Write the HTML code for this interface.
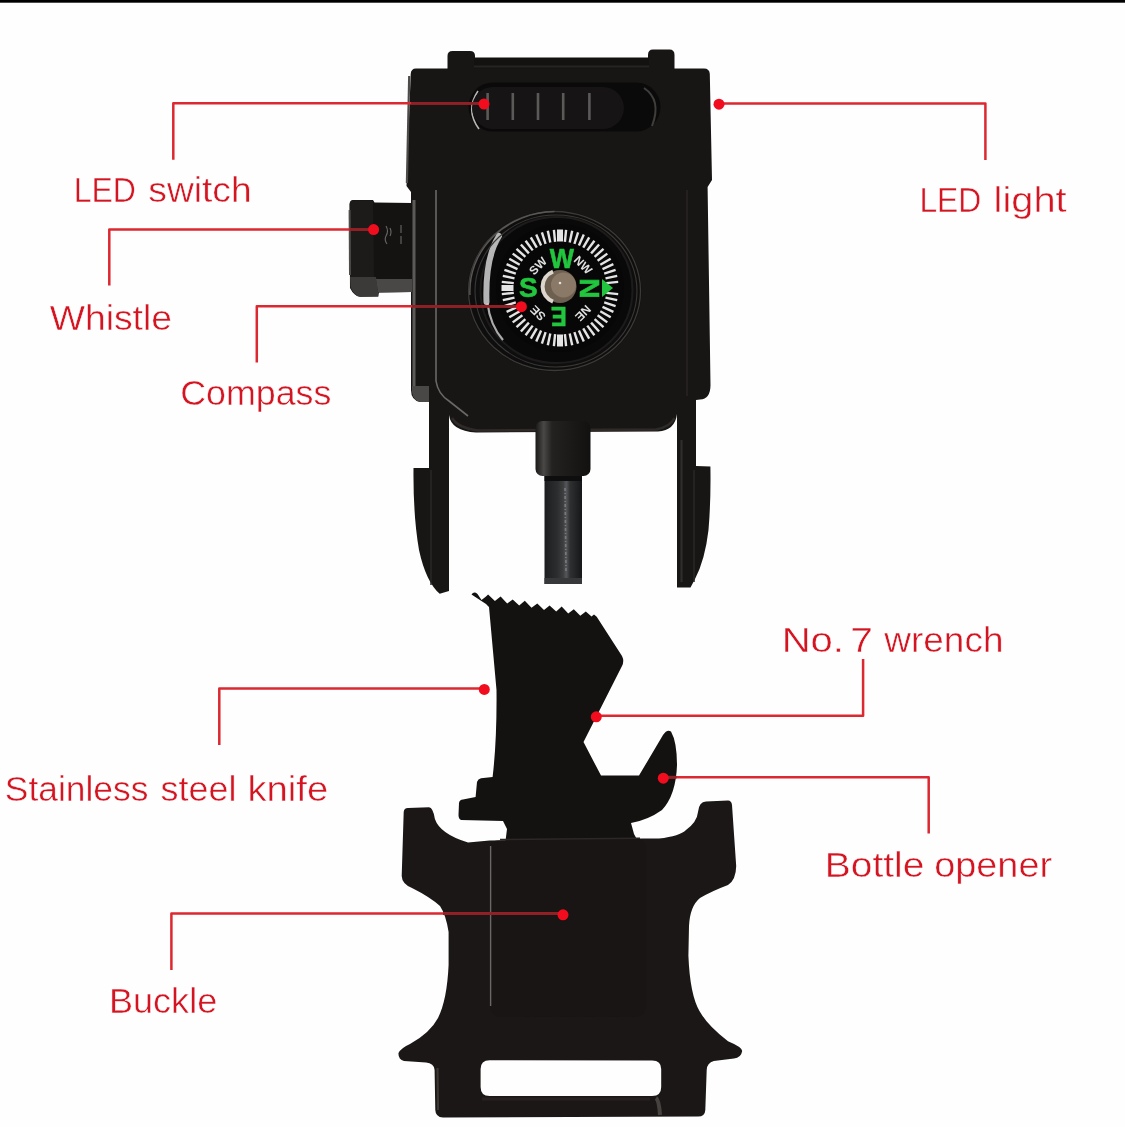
<!DOCTYPE html>
<html><head><meta charset="utf-8"><title>Survival buckle</title>
<style>
html,body{margin:0;padding:0;background:#fefefe;}
body{width:1125px;height:1127px;overflow:hidden;position:relative;font-family:"Liberation Sans",sans-serif;}
svg{position:absolute;left:0;top:0;display:block;filter:blur(0.45px);}
</style></head>
<body>
<svg width="1125" height="1127" viewBox="0 0 1125 1127">
<rect x="0" y="0" width="1125" height="2.7" fill="#000"/>
<path d="M447.5,70 L447.5,56 Q447.5,51 452.5,51 L470,51 Q475,51 475,56 L475,70 Z" fill="#181615"/>
<path d="M648,70 L648,55 Q648,49.5 653,49.5 L669.5,49.5 Q674.5,49.5 674.5,55 L674.5,70 Z" fill="#181615"/>
<rect x="474" y="57.5" width="175" height="13" fill="#131211"/>
<rect x="474" y="65.5" width="175" height="2" fill="#262422"/>
<path d="M416,68.5 L704,68.5 Q709.5,68.5 709.8,74 L712,180 L707.6,187 L710.5,385 Q710.5,399 700,399.5 L696,400 L696,466 L710.4,466.5 Q711,500 708.5,530 Q705,560 695,579 L690.5,587.5 L677,587.5 L677,414 Q675,430.5 658,431.5 L476,432.5 Q451,431 449,415 L449,591 L439.7,593.8 Q426,582 419,550 Q413,515 413.5,468 L429,468 L429,402 L420,402 Q411,400 411,390 L411,192 L406.5,186 L410.7,74 Q411,68.5 416,68.5 Z" fill="#181615"/>
<path d="M409.2,76 L406.9,183" stroke="#4e4c4a" stroke-width="2.2" fill="none"/>
<path d="M436,190 L436,381 Q438,394 449,401 L468,416" stroke="#6a6866" stroke-width="1.6" fill="none"/>
<path d="M414,200 L414,386" stroke="#5c5a58" stroke-width="3" fill="none"/>
<path d="M687,190 L687,396" stroke="#2a2826" stroke-width="1.3" fill="none"/>
<path d="M412,386 L429,386 L429,402 L420,402 Q413,400 412,392 Z" fill="#4a4846"/>
<path d="M452,418 Q458,428 478,430.5 L656,429.5 Q670,427 674.5,418" stroke="#2e2a28" stroke-width="2.5" fill="none"/>
<path d="M431,470 L431,585" stroke="#2a2827" stroke-width="1.5"/>
<path d="M694,470 L694,582" stroke="#2a2827" stroke-width="1.5"/>
<path d="M681.5,440 L681.5,582" stroke="#302e2c" stroke-width="2.2"/>
<rect x="468.5" y="82.5" width="192" height="49" rx="24.5" fill="#0b0a0a"/>
<path d="M478,91 Q465,110 479,129" stroke="#b8b6b4" stroke-width="1.6" fill="none"/>
<path d="M644,88 Q662,100 652,126" stroke="#403e3c" stroke-width="2" fill="none"/>
<rect x="472" y="87" width="152" height="42" rx="21" fill="#161414"/>
<rect x="486.3" y="93" width="2.6" height="27" fill="#6e6c6a" opacity="0.8"/>
<rect x="511.49999999999994" y="93" width="2.6" height="27" fill="#6e6c6a" opacity="0.8"/>
<rect x="536.7" y="93" width="2.6" height="27" fill="#6e6c6a" opacity="0.8"/>
<rect x="561.9000000000001" y="93" width="2.6" height="27" fill="#6e6c6a" opacity="0.8"/>
<rect x="588.1" y="93" width="2.6" height="27" fill="#6e6c6a" opacity="0.8"/>
<path d="M353,200 L373,200 L374.5,202.5 L412,203 L412,292 L379,292.5 L378,296.5 L360,296.8 Q354,296 350,288 L349.5,204 Q350,200 353,200 Z" fill="#141312"/>
<path d="M353,200.5 L373,200.5 L374,277 L350,277 L349.8,204 Q350,200.5 353,200.5 Z" fill="#1d1b1a"/>
<path d="M349.6,210 L350,275" stroke="#4e4c4a" stroke-width="2"/>
<path d="M350,277 L376,277 L378.5,296.5 L360,296.8 Q354,296 350.5,287 Z" fill="#3c3a38"/>
<path d="M376,279 L412,279 L412,292 L378,292.5 Z" fill="#4a4846"/>
<path d="M386,226 Q389,231 386,236 Q384,240 387,244 M390,228 Q392,232 390,236 M401,225 L401,233 M401,236 L401,244" stroke="#6a6866" stroke-width="1.1" fill="none"/>
<ellipse cx="554.5" cy="291" rx="87" ry="80.5" fill="#0f0e0e"/>
<ellipse cx="554.5" cy="291" rx="86" ry="79.5" fill="none" stroke="#3c3a38" stroke-width="1.3"/>
<path d="M470,295 A86,79.5 0 0 1 554.5,211.5" stroke="#5a5754" stroke-width="1.4" fill="none"/>
<ellipse cx="556.5" cy="290" rx="76" ry="73" fill="#0a0909" stroke="#1e1c1b" stroke-width="2"/>
<path d="M499,236 Q485,258 486.5,302" stroke="#d4d4d4" stroke-width="6" fill="none" opacity="0.85" stroke-linecap="round"/>
<path d="M487.5,303 Q490,325 503,340" stroke="#c8c8c8" stroke-width="2.2" fill="none" opacity="0.85"/>
<ellipse cx="556" cy="291" rx="81" ry="76" fill="none" stroke="#3a3836" stroke-width="1.1"/>
<circle cx="560" cy="288" r="64" fill="#080707"/>
<line x1="606.2" y1="292.9" x2="618.2" y2="294.1" stroke="#e4e4e4" stroke-width="2.4"/>
<line x1="605.5" y1="297.7" x2="617.2" y2="300.2" stroke="#e4e4e4" stroke-width="2.4"/>
<line x1="604.2" y1="302.4" x2="615.6" y2="306.1" stroke="#e4e4e4" stroke-width="2.4"/>
<line x1="602.5" y1="306.9" x2="613.4" y2="311.8" stroke="#e4e4e4" stroke-width="2.4"/>
<line x1="600.3" y1="311.2" x2="610.7" y2="317.2" stroke="#e4e4e4" stroke-width="2.4"/>
<line x1="597.6" y1="315.3" x2="607.3" y2="322.4" stroke="#e4e4e4" stroke-width="2.4"/>
<line x1="594.6" y1="319.1" x2="603.5" y2="327.1" stroke="#e4e4e4" stroke-width="2.4"/>
<line x1="591.1" y1="322.6" x2="599.1" y2="331.5" stroke="#e4e4e4" stroke-width="2.4"/>
<line x1="587.3" y1="325.6" x2="594.4" y2="335.3" stroke="#e4e4e4" stroke-width="2.4"/>
<line x1="583.2" y1="328.3" x2="589.2" y2="338.7" stroke="#e4e4e4" stroke-width="2.4"/>
<line x1="578.9" y1="330.5" x2="583.8" y2="341.4" stroke="#e4e4e4" stroke-width="2.4"/>
<line x1="574.4" y1="332.2" x2="578.1" y2="343.6" stroke="#e4e4e4" stroke-width="2.4"/>
<line x1="569.7" y1="333.5" x2="572.2" y2="345.2" stroke="#e4e4e4" stroke-width="2.4"/>
<line x1="564.9" y1="334.2" x2="566.1" y2="346.2" stroke="#e4e4e4" stroke-width="2.4"/>
<line x1="560.0" y1="334.5" x2="560.0" y2="346.5" stroke="#e4e4e4" stroke-width="6"/>
<line x1="555.1" y1="334.2" x2="553.9" y2="346.2" stroke="#e4e4e4" stroke-width="2.4"/>
<line x1="550.3" y1="333.5" x2="547.8" y2="345.2" stroke="#e4e4e4" stroke-width="2.4"/>
<line x1="545.6" y1="332.2" x2="541.9" y2="343.6" stroke="#e4e4e4" stroke-width="2.4"/>
<line x1="541.1" y1="330.5" x2="536.2" y2="341.4" stroke="#e4e4e4" stroke-width="2.4"/>
<line x1="536.8" y1="328.3" x2="530.8" y2="338.7" stroke="#e4e4e4" stroke-width="2.4"/>
<line x1="532.7" y1="325.6" x2="525.6" y2="335.3" stroke="#e4e4e4" stroke-width="2.4"/>
<line x1="528.9" y1="322.6" x2="520.9" y2="331.5" stroke="#e4e4e4" stroke-width="2.4"/>
<line x1="525.4" y1="319.1" x2="516.5" y2="327.1" stroke="#e4e4e4" stroke-width="2.4"/>
<line x1="522.4" y1="315.3" x2="512.7" y2="322.4" stroke="#e4e4e4" stroke-width="2.4"/>
<line x1="519.7" y1="311.2" x2="509.3" y2="317.2" stroke="#e4e4e4" stroke-width="2.4"/>
<line x1="517.5" y1="306.9" x2="506.6" y2="311.8" stroke="#e4e4e4" stroke-width="2.4"/>
<line x1="515.8" y1="302.4" x2="504.4" y2="306.1" stroke="#e4e4e4" stroke-width="2.4"/>
<line x1="514.5" y1="297.7" x2="502.8" y2="300.2" stroke="#e4e4e4" stroke-width="2.4"/>
<line x1="513.8" y1="292.9" x2="501.8" y2="294.1" stroke="#e4e4e4" stroke-width="2.4"/>
<line x1="513.5" y1="288.0" x2="501.5" y2="288.0" stroke="#e4e4e4" stroke-width="6"/>
<line x1="513.8" y1="283.1" x2="501.8" y2="281.9" stroke="#e4e4e4" stroke-width="2.4"/>
<line x1="514.5" y1="278.3" x2="502.8" y2="275.8" stroke="#e4e4e4" stroke-width="2.4"/>
<line x1="515.8" y1="273.6" x2="504.4" y2="269.9" stroke="#e4e4e4" stroke-width="2.4"/>
<line x1="517.5" y1="269.1" x2="506.6" y2="264.2" stroke="#e4e4e4" stroke-width="2.4"/>
<line x1="519.7" y1="264.8" x2="509.3" y2="258.8" stroke="#e4e4e4" stroke-width="2.4"/>
<line x1="522.4" y1="260.7" x2="512.7" y2="253.6" stroke="#e4e4e4" stroke-width="2.4"/>
<line x1="525.4" y1="256.9" x2="516.5" y2="248.9" stroke="#e4e4e4" stroke-width="2.4"/>
<line x1="528.9" y1="253.4" x2="520.9" y2="244.5" stroke="#e4e4e4" stroke-width="2.4"/>
<line x1="532.7" y1="250.4" x2="525.6" y2="240.7" stroke="#e4e4e4" stroke-width="2.4"/>
<line x1="536.8" y1="247.7" x2="530.8" y2="237.3" stroke="#e4e4e4" stroke-width="2.4"/>
<line x1="541.1" y1="245.5" x2="536.2" y2="234.6" stroke="#e4e4e4" stroke-width="2.4"/>
<line x1="545.6" y1="243.8" x2="541.9" y2="232.4" stroke="#e4e4e4" stroke-width="2.4"/>
<line x1="550.3" y1="242.5" x2="547.8" y2="230.8" stroke="#e4e4e4" stroke-width="2.4"/>
<line x1="555.1" y1="241.8" x2="553.9" y2="229.8" stroke="#e4e4e4" stroke-width="2.4"/>
<line x1="560.0" y1="241.5" x2="560.0" y2="229.5" stroke="#e4e4e4" stroke-width="6"/>
<line x1="564.9" y1="241.8" x2="566.1" y2="229.8" stroke="#e4e4e4" stroke-width="2.4"/>
<line x1="569.7" y1="242.5" x2="572.2" y2="230.8" stroke="#e4e4e4" stroke-width="2.4"/>
<line x1="574.4" y1="243.8" x2="578.1" y2="232.4" stroke="#e4e4e4" stroke-width="2.4"/>
<line x1="578.9" y1="245.5" x2="583.8" y2="234.6" stroke="#e4e4e4" stroke-width="2.4"/>
<line x1="583.2" y1="247.7" x2="589.2" y2="237.3" stroke="#e4e4e4" stroke-width="2.4"/>
<line x1="587.3" y1="250.4" x2="594.4" y2="240.7" stroke="#e4e4e4" stroke-width="2.4"/>
<line x1="591.1" y1="253.4" x2="599.1" y2="244.5" stroke="#e4e4e4" stroke-width="2.4"/>
<line x1="594.6" y1="256.9" x2="603.5" y2="248.9" stroke="#e4e4e4" stroke-width="2.4"/>
<line x1="597.6" y1="260.7" x2="607.3" y2="253.6" stroke="#e4e4e4" stroke-width="2.4"/>
<line x1="600.3" y1="264.8" x2="610.7" y2="258.8" stroke="#e4e4e4" stroke-width="2.4"/>
<line x1="602.5" y1="269.1" x2="613.4" y2="264.2" stroke="#e4e4e4" stroke-width="2.4"/>
<line x1="604.2" y1="273.6" x2="615.6" y2="269.9" stroke="#e4e4e4" stroke-width="2.4"/>
<line x1="605.5" y1="278.3" x2="617.2" y2="275.8" stroke="#e4e4e4" stroke-width="2.4"/>
<line x1="606.2" y1="283.1" x2="618.2" y2="281.9" stroke="#e4e4e4" stroke-width="2.4"/>
<text x="0" y="0" font-family="Liberation Sans, sans-serif" font-weight="bold" font-size="27" fill="#22c63e" stroke="#22c63e" stroke-width="0.6" text-anchor="middle" dominant-baseline="central" transform="translate(561.8,258.8) rotate(0) scale(0.95,1)">W</text>
<text x="0" y="0" font-family="Liberation Sans, sans-serif" font-weight="bold" font-size="28" fill="#22c63e" stroke="#22c63e" stroke-width="0.6" text-anchor="middle" dominant-baseline="central" transform="translate(589.7,288.4) rotate(90) scale(1.0,1)">N</text>
<text x="0" y="0" font-family="Liberation Sans, sans-serif" font-weight="bold" font-size="28" fill="#22c63e" stroke="#22c63e" stroke-width="0.6" text-anchor="middle" dominant-baseline="central" transform="translate(528.4,287.2) rotate(0) scale(1.0,1)">S</text>
<text x="0" y="0" font-family="Liberation Sans, sans-serif" font-weight="bold" font-size="28" fill="#22c63e" stroke="#22c63e" stroke-width="0.6" text-anchor="middle" dominant-baseline="central" transform="translate(558.7,317) rotate(180) scale(0.85,1)">E</text>
<polygon points="602,279 602,297 613,288" fill="#22c63e"/>
<text x="0" y="0" font-family="Liberation Sans, sans-serif" font-weight="bold" font-size="12" fill="#dedede" text-anchor="middle" dominant-baseline="central" transform="translate(538,266) rotate(-45)">SW</text>
<text x="0" y="0" font-family="Liberation Sans, sans-serif" font-weight="bold" font-size="12" fill="#dedede" text-anchor="middle" dominant-baseline="central" transform="translate(583,265) rotate(45)">NW</text>
<text x="0" y="0" font-family="Liberation Sans, sans-serif" font-weight="bold" font-size="12" fill="#dedede" text-anchor="middle" dominant-baseline="central" transform="translate(583,313) rotate(135)">NE</text>
<text x="0" y="0" font-family="Liberation Sans, sans-serif" font-weight="bold" font-size="12" fill="#dedede" text-anchor="middle" dominant-baseline="central" transform="translate(538,313) rotate(-135)">SE</text>
<circle cx="560" cy="286.5" r="16.5" fill="#6e6050"/>
<path d="M553,271.5 A16,16 0 0 0 553,301.5" stroke="#dcd6cc" stroke-width="4" fill="none"/>
<circle cx="563.5" cy="285" r="12.5" fill="#8a7966"/>
<circle cx="560" cy="283" r="1.3" fill="#e0e0e0"/>
<defs><linearGradient id="fsh" x1="0" x2="1" y1="0" y2="0"><stop offset="0" stop-color="#1a1817"/><stop offset="0.15" stop-color="#4a4846"/><stop offset="0.3" stop-color="#242220"/><stop offset="1" stop-color="#121110"/></linearGradient><linearGradient id="rod" x1="0" x2="1" y1="0" y2="0"><stop offset="0" stop-color="#1c1d1f"/><stop offset="0.35" stop-color="#2c2e30"/><stop offset="0.5" stop-color="#3c3e40"/><stop offset="0.58" stop-color="#55575a"/><stop offset="0.68" stop-color="#2e3032"/><stop offset="1" stop-color="#161718"/></linearGradient></defs>
<rect x="535.5" y="421" width="55" height="55" rx="7" fill="url(#fsh)"/>
<rect x="544.5" y="476" width="37.5" height="108" fill="url(#rod)"/>
<rect x="544.5" y="476" width="37.5" height="5" fill="#0e0e0e"/>
<rect x="544.5" y="578" width="37.5" height="6" fill="#36383a"/>
<path d="M565,488 L566,572" stroke="#8a8c8e" stroke-width="1.6" stroke-dasharray="3 2 1 2" opacity="0.7"/>
<path d="M471.5,594.5 Q474,591 477.5,594 L481.5,600 L486,596.5 L488.1,594.4 L494.9,601.0 L500.6,596.5 L507.2,603.5 L512.7,599.4 L519.2,605.6 L524.8,600.8 L531.5,607.7 L537.3,603.6 L544.0,610.0 L549.6,605.4 L556.2,611.5 L561.7,606.6 L568.2,613.4 L573.8,609.2 L580.3,615.8 L585.8,611.4 L591.5,616.5 L594,614.5 L596.7,616.7 L622,656 Q624.5,661 622,666 L583.5,742 L601,775.6 L639,775.6 L663,735 Q667,729 671,731.5 Q677,742 677,765 Q676,795 662,810 Q648,820 631,823 L634,834 L640,845 L505,845 L507,829 L503,821 L461,820 Q458.5,819 458.5,815 L459,803 Q459.5,799.5 463,799.5 L475.6,797 L477,782 Q478,779 481,778.3 L492.6,777 Q497,740 496.5,690 L489,607 L486,604 Z" fill="#141211"/>
<path d="M408,808 L429,807.3 Q433,807.5 434.9,819 Q440,834 468,842.5 L489.6,840.5 L643.4,838.6 L659,838.6 Q680,836 686,830 Q697,822 698,812 Q699,801.5 706,801.5 L728,800.5 Q731.5,800.5 732,805 L736.2,866 Q736,880 728,885 Q712,891 700,898 Q690,906 689,926 L688.4,955.8 Q690,995 699.6,1011.3 Q708,1026 728,1041.2 Q742,1047 742.2,1051 Q741,1058 734,1058.5 L713.8,1061.1 Q707,1063 706.7,1070 L705.3,1110 Q705,1116.6 698,1116.6 L443,1117.6 Q435.5,1117 435.3,1110 L434.6,1070 Q434,1063 426,1062.5 L404,1061 Q398,1059 398.5,1053 Q401,1048 410,1044 Q430,1033 438,1018 Q447,1000 448.6,965 L448.6,932 Q446,915 440,906 Q430,897 412,888 Q402,884 401.7,876 L403.7,812 Q404,808 408,808 Z M489.6,1060.2 Q480.6,1060.2 480.6,1069 L480.6,1087 Q480.6,1096 489.6,1096 L652.2,1096 Q661.2,1096 661.2,1087 L661.2,1069 Q661.2,1060.4 652.2,1060.4 Z" fill="#1b1716" fill-rule="evenodd"/>
<path d="M498,840.5 L636,838.6 Q645.6,838.6 645.6,848 L645.6,1006 Q645.6,1016.8 636,1016.8 L501,1017 Q490.6,1017 490.6,1006 L489.6,850 Q489.6,840.5 498,840.5 Z" fill="#191514"/>
<path d="M490.6,846 L490.6,1006" stroke="#6a6866" stroke-width="1.4" fill="none"/>
<path d="M656,1098 Q659,1100 660,1115" stroke="#55524f" stroke-width="4" fill="none" opacity="0.75"/>
<path d="M437.5,1068 L438,1110" stroke="#3a3735" stroke-width="2.2" fill="none"/>
<path d="M482,1099 L650,1099" stroke="#2a2624" stroke-width="3" fill="none" opacity="0.8"/>
<path d="M500,839.5 L640,838.2" stroke="#2c2826" stroke-width="1.5" fill="none"/>
<polyline points="173.3,159.8 173.3,103.3 484,103.3" stroke="#dc2830" stroke-width="2.5" fill="none" stroke-linejoin="round"/>
<polyline points="719,103.5 985.4,103.5 985.4,159.9" stroke="#dc2830" stroke-width="2.5" fill="none" stroke-linejoin="round"/>
<polyline points="109.3,285.6 109.3,229.5 373.6,229.5" stroke="#dc2830" stroke-width="2.5" fill="none" stroke-linejoin="round"/>
<polyline points="256.8,362.5 256.8,306.3 521.4,306.3" stroke="#dc2830" stroke-width="2.5" fill="none" stroke-linejoin="round"/>
<polyline points="219.3,745 219.3,688.6 484.3,688.6" stroke="#dc2830" stroke-width="2.5" fill="none" stroke-linejoin="round"/>
<polyline points="596.3,715.8 863.1,715.8 863.1,659.1" stroke="#dc2830" stroke-width="2.5" fill="none" stroke-linejoin="round"/>
<polyline points="663.3,777.2 928.7,777.2 928.7,833.5" stroke="#dc2830" stroke-width="2.5" fill="none" stroke-linejoin="round"/>
<polyline points="171.4,969.9 171.4,913.6 563,913.6" stroke="#dc2830" stroke-width="2.5" fill="none" stroke-linejoin="round"/>
<line x1="411" y1="103.3" x2="484" y2="103.3" stroke="#8e2026" stroke-width="2.8"/>
<line x1="349.5" y1="229.5" x2="373.6" y2="229.5" stroke="#8e2026" stroke-width="2.8"/>
<line x1="412" y1="306.3" x2="521.4" y2="306.3" stroke="#8e2026" stroke-width="2.8"/>
<line x1="443" y1="913.6" x2="563" y2="913.6" stroke="#8e2026" stroke-width="2.8"/>
<line x1="663.3" y1="777.2" x2="676.5" y2="777.2" stroke="#8e2026" stroke-width="2.8"/>
<circle cx="484" cy="104" r="5.5" fill="#f20d1e"/>
<circle cx="719" cy="104.2" r="5.5" fill="#f20d1e"/>
<circle cx="373.6" cy="229.6" r="5.5" fill="#f20d1e"/>
<circle cx="521.4" cy="306.7" r="5.5" fill="#f20d1e"/>
<circle cx="484.3" cy="689.4" r="5.5" fill="#f20d1e"/>
<circle cx="596.3" cy="716.8" r="5.5" fill="#f20d1e"/>
<circle cx="663.3" cy="778.2" r="5.5" fill="#f20d1e"/>
<circle cx="563" cy="914.8" r="5.5" fill="#f20d1e"/>
<text x="73.70" y="202.1" textLength="62.26" lengthAdjust="spacingAndGlyphs" font-family="Liberation Sans, sans-serif" font-size="35.5" fill="#d41420" stroke="#fefefe" stroke-width="0.45">LED</text>
<text x="148.35" y="202.1" textLength="103.26" lengthAdjust="spacingAndGlyphs" font-family="Liberation Sans, sans-serif" font-size="35.5" fill="#d41420" stroke="#fefefe" stroke-width="0.45">switch</text>
<text x="919.41" y="212.0" textLength="61.94" lengthAdjust="spacingAndGlyphs" font-family="Liberation Sans, sans-serif" font-size="35.5" fill="#d41420" stroke="#fefefe" stroke-width="0.45">LED</text>
<text x="993.56" y="212.0" textLength="73.08" lengthAdjust="spacingAndGlyphs" font-family="Liberation Sans, sans-serif" font-size="35.5" fill="#d41420" stroke="#fefefe" stroke-width="0.45">light</text>
<text x="49.70" y="330.2" textLength="122.36" lengthAdjust="spacingAndGlyphs" font-family="Liberation Sans, sans-serif" font-size="35.5" fill="#d41420" stroke="#fefefe" stroke-width="0.45">Whistle</text>
<text x="180.29" y="405.0" textLength="151.08" lengthAdjust="spacingAndGlyphs" font-family="Liberation Sans, sans-serif" font-size="35.5" fill="#d41420" stroke="#fefefe" stroke-width="0.45">Compass</text>
<text x="781.72" y="651.7" textLength="62.24" lengthAdjust="spacingAndGlyphs" font-family="Liberation Sans, sans-serif" font-size="35.5" fill="#d41420" stroke="#fefefe" stroke-width="0.45">No.</text>
<text x="850.30" y="651.7" textLength="22.71" lengthAdjust="spacingAndGlyphs" font-family="Liberation Sans, sans-serif" font-size="35.5" fill="#d41420" stroke="#fefefe" stroke-width="0.45">7</text>
<text x="884.30" y="651.7" textLength="119.15" lengthAdjust="spacingAndGlyphs" font-family="Liberation Sans, sans-serif" font-size="35.5" fill="#d41420" stroke="#fefefe" stroke-width="0.45">wrench</text>
<text x="4.81" y="800.9" textLength="143.54" lengthAdjust="spacingAndGlyphs" font-family="Liberation Sans, sans-serif" font-size="35.5" fill="#d41420" stroke="#fefefe" stroke-width="0.45">Stainless</text>
<text x="160.59" y="800.9" textLength="75.83" lengthAdjust="spacingAndGlyphs" font-family="Liberation Sans, sans-serif" font-size="35.5" fill="#d41420" stroke="#fefefe" stroke-width="0.45">steel</text>
<text x="247.44" y="800.9" textLength="80.83" lengthAdjust="spacingAndGlyphs" font-family="Liberation Sans, sans-serif" font-size="35.5" fill="#d41420" stroke="#fefefe" stroke-width="0.45">knife</text>
<text x="824.81" y="877.1" textLength="99.54" lengthAdjust="spacingAndGlyphs" font-family="Liberation Sans, sans-serif" font-size="35.5" fill="#d41420" stroke="#fefefe" stroke-width="0.45">Bottle</text>
<text x="934.17" y="877.1" textLength="117.92" lengthAdjust="spacingAndGlyphs" font-family="Liberation Sans, sans-serif" font-size="35.5" fill="#d41420" stroke="#fefefe" stroke-width="0.45">opener</text>
<text x="109.06" y="1013.3" textLength="108.13" lengthAdjust="spacingAndGlyphs" font-family="Liberation Sans, sans-serif" font-size="35.5" fill="#d41420" stroke="#fefefe" stroke-width="0.45">Buckle</text>
</svg>
</body></html>
